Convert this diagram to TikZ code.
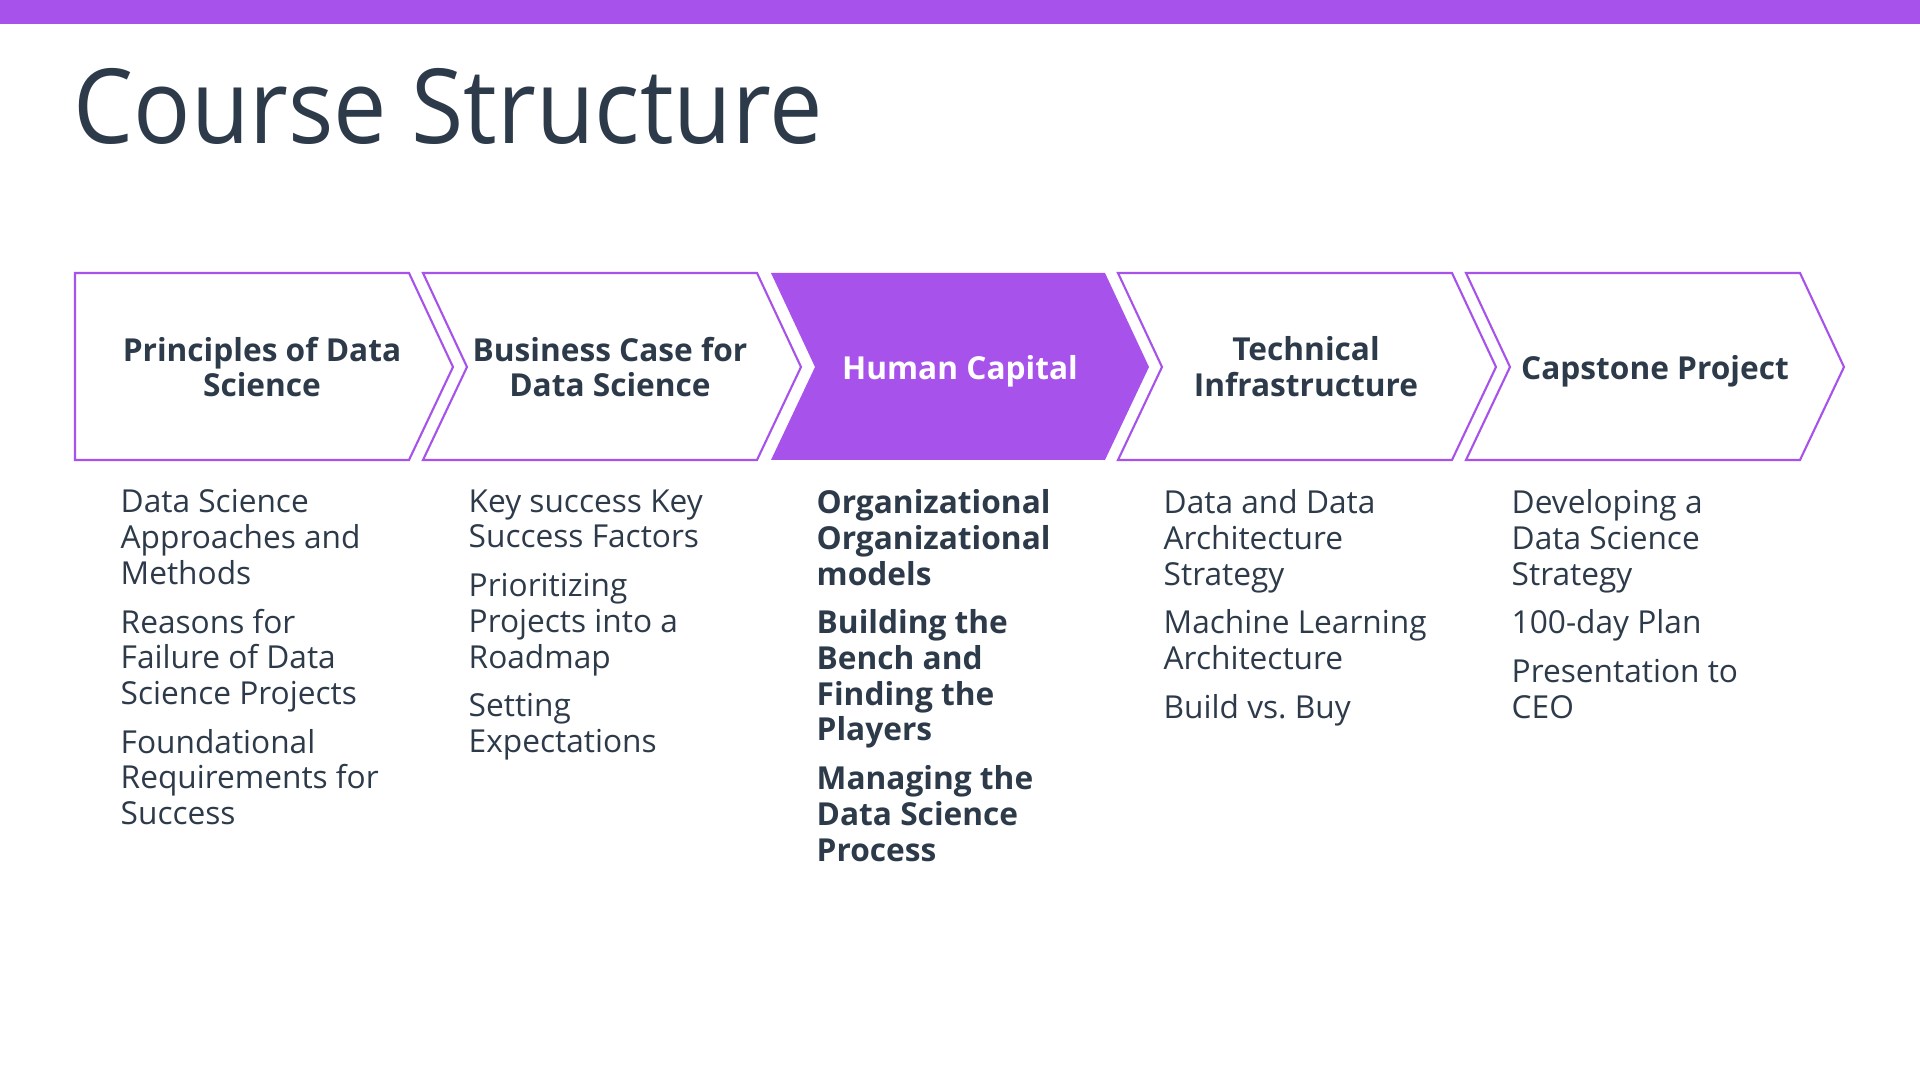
\documentclass[tikz,border=0pt]{standalone}
\usepackage{fontspec}
\setmainfont{Open Sans}
\usetikzlibrary{positioning}
\definecolor{brandpurple}{HTML}{A752EA}
\definecolor{inkslate}{HTML}{2D3A4A}

\begin{document}
\begin{tikzpicture}[x=0.01cm, y=-0.01cm,
  chev/.style={draw=brandpurple, line width=0.6pt, line join=miter},
  head/.style={font=\bfseries\fontsize{9}{10.2}\selectfont, text=inkslate,
    align=center, inner sep=0pt},
  items/.style={font=\fontsize{9}{10.15}\selectfont, text=inkslate,
    align=left, anchor=north west, inner sep=0pt},
  title/.style={font=\fontsize{29.5}{34}\selectfont, text=inkslate,
    anchor=base west, inner sep=0pt, xscale=0.917}
]
  \useasboundingbox (0,0) rectangle (1920,1080);
  \fill[brandpurple] (0,0) rectangle (1920,24);
  \node[title] (title) at (73,144) {Course Structure};

  % chevrons
  \draw[chev] (75,273) -- (409,273) -- (453,367) -- (409,460) -- (75,460) -- cycle;
  \foreach \x in {423,1118,1466}
    \draw[chev] (\x,273) -- (\x+334,273) -- (\x+378,367) -- (\x+334,460)
      -- (\x,460) -- (\x+44,367) -- cycle;
  \fill[brandpurple] (771,273) -- (1105,273) -- (1149,367) -- (1105,460)
    -- (771,460) -- (815,367) -- cycle;

  \node[head] (principles) at (262,367) {Principles of Data\\Science};
  \node[head] (business) at (610,367) {Business Case for\\Data Science};
  \node[head, text=white] (human) at (960,371) {Human Capital};
  \node[head] (technical) at (1306,367) {Technical\\Infrastructure};
  \node[head] (capstone) at (1655,371) {Capstone Project};

  \node[items] (principlesitems) at (120,489)
    {Data Science\\Approaches and\\Methods\\[3.7pt]
     Reasons for\\Failure of Data\\Science Projects\\[3.7pt]
     Foundational\\Requirements for\\Success};
  \node[items] (businessitems) at (468,489)
    {Key success Key\\Success Factors\\[3.7pt]
     Prioritizing\\Projects into a\\Roadmap\\[3.7pt]
     Setting\\Expectations};
  \node[items, font=\bfseries\fontsize{9}{10.15}\selectfont] (humanitems) at (816,489)
    {Organizational\\Organizational\\models\\[3.7pt]
     Building the\\Bench and\\Finding the\\Players\\[3.7pt]
     Managing the\\Data Science\\Process};
  \node[items] (technicalitems) at (1163,489)
    {Data and Data\\Architecture\\Strategy\\[3.7pt]
     Machine Learning\\Architecture\\[3.7pt]
     Build vs.\ Buy};
  \node[items] (capstoneitems) at (1511,489)
    {Developing a\\Data Science\\Strategy\\[3.7pt]
     100-day Plan\\[3.7pt]
     Presentation to\\CEO};
\end{tikzpicture}
\end{document}
